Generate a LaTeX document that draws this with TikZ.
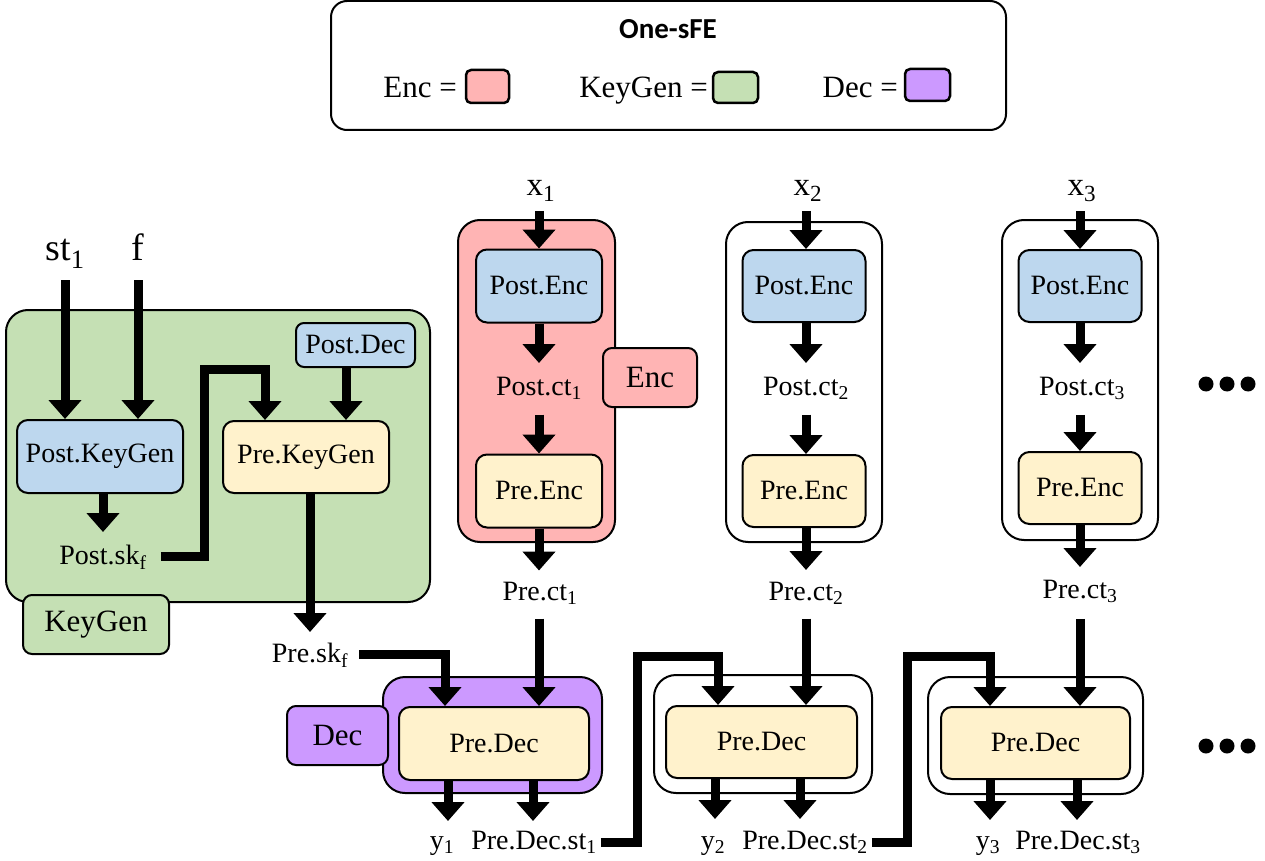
\documentclass[tikz,border=0pt]{standalone}
\usepackage{fontspec}
\setmainfont{Liberation Serif}
\newfontfamily\headfont{Carlito}
\usetikzlibrary{arrows.meta,calc}
\definecolor{encpink}{RGB}{255,180,180}
\definecolor{keygreen}{RGB}{197,224,180}
\definecolor{decpurple}{RGB}{204,153,255}
\definecolor{postblue}{RGB}{189,215,238}
\definecolor{preyellow}{RGB}{255,242,204}
\newcommand\fsz[1]{\fontsize{#1pt}{#1pt}\selectfont}

\begin{document}
\begin{tikzpicture}[x=1pt,y=-1pt,
  box/.style={draw, line width=2pt, rounded corners=11pt, inner sep=0pt, align=center},
  postbox/.style={box, fill=postblue, font=\fsz{28}},
  prebox/.style={box, fill=preyellow, font=\fsz{28}},
  group/.style={draw, line width=2pt, rounded corners=22pt, inner sep=0pt},
  tag/.style={draw, line width=2pt, rounded corners=9pt, inner sep=0pt, font=\fsz{31}},
  lab/.style={inner sep=0pt, anchor=base, font=\fsz{28}},
  inlab/.style={inner sep=0pt, anchor=base, font=\fsz{38}},
  xlab/.style={inner sep=0pt, anchor=base, font=\fsz{33}},
  arr/.style={line width=9pt, line join=miter, -{Triangle[width=32pt,length=19pt]}},
  swatch/.style={draw, line width=2.5pt, rounded corners=5pt, inner sep=0pt},
  dot/.style={circle, fill=black, inner sep=0pt, minimum size=15pt},
]
\useasboundingbox (0,0) rectangle (1265,861);

% ---------------- legend ----------------
\node[group, rounded corners=16pt, minimum width=675pt, minimum height=129pt] (legend) at (668.5,65.5) {};
\node[inner sep=0pt, anchor=base, font=\headfont\bfseries\fsz{29}] (title) at (668,39) {One-sFE};
\node[inner sep=0pt, anchor=base east, font=\fsz{31}] (lenc) at (457,98) {Enc =};
\node[swatch, fill=encpink, minimum width=43pt, minimum height=33pt] (swenc) at (487.5,86.5) {};
\node[inner sep=0pt, anchor=base east, font=\fsz{31}] (lkg) at (708,98) {KeyGen =};
\node[swatch, fill=keygreen, minimum width=45pt, minimum height=31pt] (swkg) at (735.5,87.5) {};
\node[inner sep=0pt, anchor=base east, font=\fsz{31}] (ldec) at (898,98) {Dec =};
\node[swatch, fill=decpurple, minimum width=45pt, minimum height=32pt] (swdec) at (927.5,85) {};

% ---------------- KeyGen ----------------
\node[group, fill=keygreen, minimum width=424pt, minimum height=292pt] (kgg) at (218,456) {};
\node[postbox, minimum width=166pt, minimum height=73pt] (pkg) at (100,456.5) {Post.KeyGen};
\node[prebox, minimum width=166pt, minimum height=72pt] (prkg) at (306,457) {Pre.KeyGen};
\node[postbox, rounded corners=8pt, minimum width=119pt, minimum height=44pt] (pdec) at (355.5,345) {Post.Dec};
\node[tag, fill=keygreen, minimum width=146pt, minimum height=59pt] (kgtag) at (96,624.5) {KeyGen};
\node[inlab] (st1) at (65,260) {st\textsubscript{1}};
\node[inlab] (fin) at (138,260) {f};
\node[lab] (psk) at (103,564) {Post.sk\textsubscript{f}};
\node[lab] (prsk) at (310,662) {Pre.sk\textsubscript{f}};

\draw[arr] (st1.south |- 0,280) -- (st1.south |- pkg.north);
\draw[arr] (fin.south |- 0,280) -- (fin.south |- pkg.north);
\draw[arr] (pkg.south -| psk) -- (psk.north |- 0,532);
\draw[arr] ([xshift=14pt]psk.east) -| (204,369) -| ([xshift=-41pt]prkg.north);
\draw[arr] (pdec.south -| 346,0) -- (prkg.north -| 346,0);
\draw[arr] (prkg.south -| prsk) -- (prsk.north |- 0,632);

% ---------------- Enc columns ----------------
\node[group, fill=encpink, minimum width=157pt, minimum height=322pt] (encg1) at (536.5,381) {};
\node[group, minimum width=156pt, minimum height=320pt] (encg2) at (804,382) {};
\node[group, minimum width=156pt, minimum height=320pt] (encg3) at (1080,380) {};

\node[postbox, minimum width=126pt, minimum height=73pt] (pe1) at (539,286) {Post.Enc};
\node[prebox, minimum width=126pt, minimum height=73pt] (re1) at (539,491) {Pre.Enc};
\node[postbox, minimum width=123pt, minimum height=72pt] (pe2) at (804,286) {Post.Enc};
\node[prebox, minimum width=123pt, minimum height=72pt] (re2) at (804,491) {Pre.Enc};
\node[postbox, minimum width=123pt, minimum height=72pt] (pe3) at (1080,286) {Post.Enc};
\node[prebox, minimum width=123pt, minimum height=72pt] (re3) at (1080,488) {Pre.Enc};

\node[tag, fill=encpink, minimum width=94pt, minimum height=59pt] (enctag) at (650,377.5) {Enc};

\node[xlab] (x1) at (541,195) {x\textsubscript{1}};
\node[xlab] (x2) at (808,195) {x\textsubscript{2}};
\node[xlab] (x3) at (1082,195) {x\textsubscript{3}};
\node[lab] (pc1) at (539,395) {Post.ct\textsubscript{1}};
\node[lab] (pc2) at (806,395) {Post.ct\textsubscript{2}};
\node[lab] (pc3) at (1082,395) {Post.ct\textsubscript{3}};
\node[lab] (rc1) at (540,600) {Pre.ct\textsubscript{1}};
\node[lab] (rc2) at (806,600) {Pre.ct\textsubscript{2}};
\node[lab] (rc3) at (1080,598) {Pre.ct\textsubscript{3}};

\foreach \i/\c in {1/539,2/806,3/1080}{
  \draw[arr] (x\i.south -| \c,0) ++(0,9) -- (pe\i.north -| \c,0);
  \draw[arr] (pe\i.south -| \c,0) -- (\c,363);
  \draw[arr] (pc\i.south -| \c,0) ++(0,15) -- (re\i.north -| \c,0);
  \draw[arr] (re\i.south -| \c,0) -- ++(0,42);
}

% ---------------- Dec row ----------------
\node[group, fill=decpurple, minimum width=219pt, minimum height=116pt] (decg1) at (492.5,735) {};
\node[group, minimum width=218pt, minimum height=118pt] (decg2) at (763,734) {};
\node[group, minimum width=215pt, minimum height=117pt] (decg3) at (1035.5,735.5) {};
\node[prebox, minimum width=190pt, minimum height=73pt] (pd1) at (494,743.5) {Pre.Dec};
\node[prebox, minimum width=191pt, minimum height=72pt] (pd2) at (761.5,742) {Pre.Dec};
\node[prebox, minimum width=189pt, minimum height=72pt] (pd3) at (1035.5,743) {Pre.Dec};
\node[tag, fill=decpurple, minimum width=101pt, minimum height=59pt] (dectag) at (337.5,735.5) {Dec};

\node[lab] (y1) at (442,849) {y\textsubscript{1}};
\node[lab] (ds1) at (534,849) {Pre.Dec.st\textsubscript{1}};
\node[lab] (y2) at (713,849) {y\textsubscript{2}};
\node[lab] (ds2) at (805,849) {Pre.Dec.st\textsubscript{2}};
\node[lab] (y3) at (988,849) {y\textsubscript{3}};
\node[lab] (ds3) at (1078,849) {Pre.Dec.st\textsubscript{3}};

% ciphertexts into decryption
\draw[arr] (rc1.south -| 539,0) ++(0,14) -- (pd1.north -| 539,0);
\draw[arr] (rc2.south -| 806,0) ++(0,14) -- (pd2.north -| 806,0);
\draw[arr] (rc3.south -| 1080,0) ++(0,16) -- (pd3.north -| 1080,0);

% keys and states into decryption
\draw[arr] ([xshift=11pt]prsk.east) -| ([xshift=-49pt]pd1.north);
\draw[arr] ([xshift=4pt]ds1.east) -| (637,656) -| ([xshift=-43.5pt]pd2.north);
\draw[arr] ([xshift=4pt]ds2.east) -| (907,656) -| ([xshift=-45.5pt]pd3.north);

% decryption outputs
\draw[arr] ([xshift=-46pt]pd1.south) -- ++(0,40);
\draw[arr] ([xshift=39pt]pd1.south) -- ++(0,40);
\draw[arr] ([xshift=-46.5pt]pd2.south) -- ++(0,40);
\draw[arr] ([xshift=38.5pt]pd2.south) -- ++(0,40);
\draw[arr] ([xshift=-45.5pt]pd3.south) -- ++(0,40);
\draw[arr] ([xshift=41.5pt]pd3.south) -- ++(0,40);

% continuation marks
\foreach \yy/\r in {384/a,746/b}{
  \node[dot] (dot\r1) at (1206,\yy) {};
  \node[dot] (dot\r2) at (1227,\yy) {};
  \node[dot] (dot\r3) at (1248,\yy) {};
}
\end{tikzpicture}
\end{document}
